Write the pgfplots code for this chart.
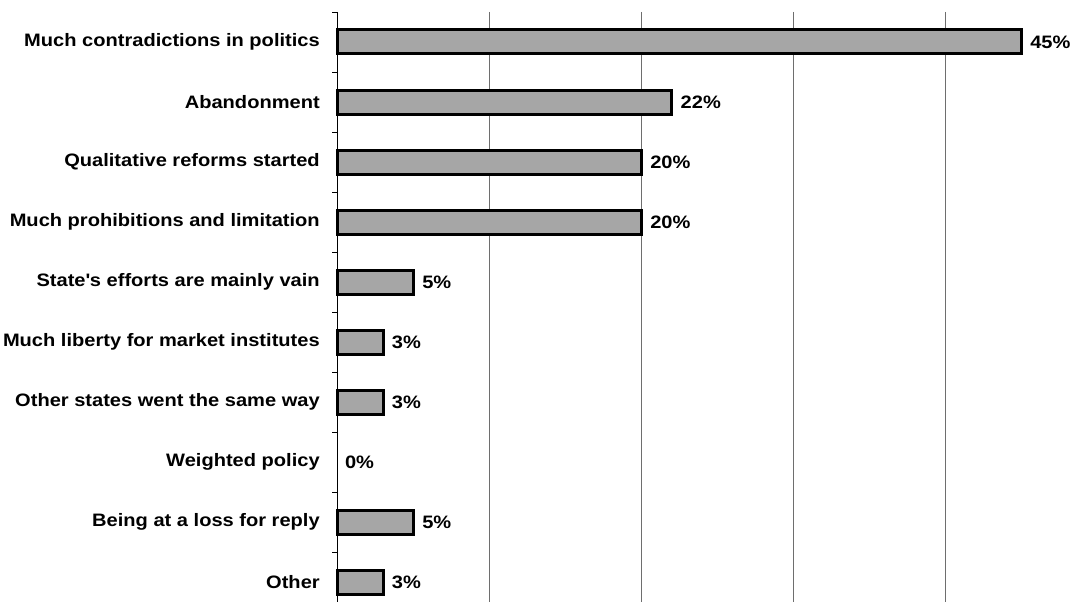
\documentclass[border=0pt]{standalone}
\usepackage{pgfplots}
\pgfplotsset{compat=1.18}
\usepackage{fontspec}
\setmainfont{Liberation Sans}
\definecolor{barfill}{RGB}{166,166,166}
\definecolor{gridc}{RGB}{110,110,110}
\newcommand{\lf}{\fontsize{18bp}{20bp}\selectfont\bfseries\addfontfeature{FakeStretch=1.115}}
\begin{document}
\begin{tikzpicture}
\begin{axis}[
  scale only axis,
  width=745.5bp, height=590bp,
  xbar, bar width=24bp, bar shift=0pt,
  xmin=0, xmax=49.05,
  ymin=0.5, ymax=10.333,
  y dir=reverse,
  axis y line=left,
  axis x line=bottom,
  x axis line style={draw=none},
  y axis line style={draw=black, line width=0.8bp, -},
  xtick={10,20,30,40},
  xticklabels={},
  xmajorgrids,
  major x grid style={draw=gridc, line width=0.8bp},
  major x tick style={draw=none},
  ytick={1,...,10},
  yticklabels={Much contradictions in politics,Abandonment,Qualitative reforms started,Much prohibitions and limitation,State\textquotesingle s efforts are mainly vain,Much liberty for market institutes,Other states went the same way,Weighted policy,Being at a loss for reply,Other},
  major y tick style={draw=none},
  minor ytick={0.5,1.5,...,9.5},
  minor y tick style={draw=black, line width=0.8bp},
  minor tick length=5bp,
  tick align=outside,
  /pgf/number format/assume math mode=true,
  yticklabel style={font=\lf, xshift=-10bp},
  nodes near coords={\pgfmathprintnumber{\pgfplotspointmeta}\%},
  every node near coord/.append style={font=\lf, anchor=west, xshift=4bp},
  clip=false,
]
\addplot[draw=black, line width=3bp, fill=barfill] coordinates {
  (45,1) (22,2) (20,3) (20,4) (5,5) (3,6) (3,7) (5,9) (3,10)
};
\addplot[draw=none, fill=none] coordinates {(0,8)};
\coordinate (tl) at (rel axis cs:0,1);
\coordinate (br) at (rel axis cs:1,0);
\end{axis}
\pgfresetboundingbox
\path[use as bounding box] ([xshift=-337.5bp,yshift=12bp]tl) rectangle (br);
\end{tikzpicture}
\end{document}
